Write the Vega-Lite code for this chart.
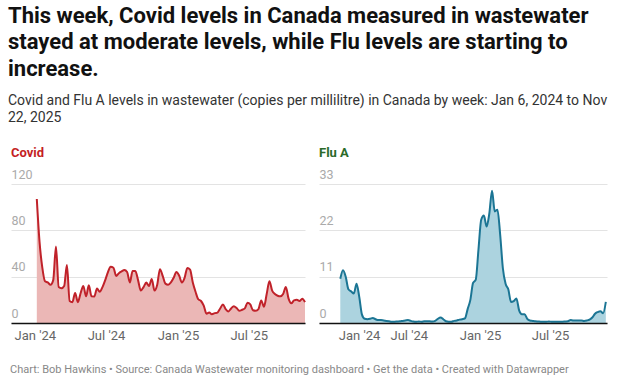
{
  "$schema": "https://vega.github.io/schema/vega-lite/v6.json",
  "background": "white",
  "padding": {"left": 8, "top": 4, "right": 10, "bottom": 4},
  "config": {
    "font": "Roboto",
    "view": {"stroke": null},
    "title": {"font": "Roboto", "subtitleFont": "Roboto"}
  },
  "title": {
    "text": ["This week, Covid levels in Canada measured in wastewater", "stayed at moderate levels, while Flu levels are starting to", "increase."],
    "subtitle": ["Covid and Flu A levels in wastewater (copies per millilitre) in Canada by week: Jan 6, 2024 to Nov", "22, 2025"],
    "anchor": "start",
    "dx": -2,
    "fontSize": 22,
    "fontWeight": "bold",
    "lineHeight": 26.7,
    "color": "#111111",
    "subtitleFontSize": 14,
    "subtitleColor": "#333333",
    "subtitleLineHeight": 16.8,
    "subtitlePadding": 13,
    "offset": 21
  },
  "datasets": {
    "weekly": [
      {"w": "2024-01-06", "covid": 107, "flu": 10.5},
      {"w": "2024-01-13", "covid": 70, "flu": 12.5},
      {"w": "2024-01-20", "covid": 48, "flu": 11},
      {"w": "2024-01-27", "covid": 36, "flu": 8},
      {"w": "2024-02-03", "covid": 35, "flu": 7.5},
      {"w": "2024-02-10", "covid": 33, "flu": 7},
      {"w": "2024-02-17", "covid": 37, "flu": 9.3},
      {"w": "2024-02-24", "covid": 66, "flu": 6.2},
      {"w": "2024-03-02", "covid": 31, "flu": 2},
      {"w": "2024-03-09", "covid": 30, "flu": 1.0},
      {"w": "2024-03-16", "covid": 32, "flu": 0.9},
      {"w": "2024-03-23", "covid": 50, "flu": 1.0},
      {"w": "2024-03-30", "covid": 19, "flu": 1.2},
      {"w": "2024-04-06", "covid": 18, "flu": 0.9},
      {"w": "2024-04-13", "covid": 26, "flu": 0.7},
      {"w": "2024-04-20", "covid": 18, "flu": 0.7},
      {"w": "2024-04-27", "covid": 25.7, "flu": 0.6},
      {"w": "2024-05-04", "covid": 32, "flu": 0.5},
      {"w": "2024-05-11", "covid": 23, "flu": 0.4},
      {"w": "2024-05-18", "covid": 32.6, "flu": 0.3},
      {"w": "2024-05-25", "covid": 23, "flu": 0.3},
      {"w": "2024-06-01", "covid": 22.9, "flu": 0.35},
      {"w": "2024-06-08", "covid": 29.7, "flu": 0.4},
      {"w": "2024-06-15", "covid": 27, "flu": 0.5},
      {"w": "2024-06-22", "covid": 31, "flu": 0.6},
      {"w": "2024-06-29", "covid": 37, "flu": 0.7},
      {"w": "2024-07-06", "covid": 44, "flu": 0.5},
      {"w": "2024-07-13", "covid": 48.5, "flu": 0.35},
      {"w": "2024-07-20", "covid": 47.7, "flu": 0.3},
      {"w": "2024-07-27", "covid": 40.6, "flu": 0.35},
      {"w": "2024-08-03", "covid": 43, "flu": 0.3},
      {"w": "2024-08-10", "covid": 44.5, "flu": 0.4},
      {"w": "2024-08-17", "covid": 45.7, "flu": 0.4},
      {"w": "2024-08-24", "covid": 44, "flu": 0.4},
      {"w": "2024-08-31", "covid": 35, "flu": 0.35},
      {"w": "2024-09-07", "covid": 44.9, "flu": 0.5},
      {"w": "2024-09-14", "covid": 45, "flu": 1.0},
      {"w": "2024-09-21", "covid": 37, "flu": 1.3},
      {"w": "2024-09-28", "covid": 28, "flu": 0.9},
      {"w": "2024-10-05", "covid": 31, "flu": 0.4},
      {"w": "2024-10-12", "covid": 34.9, "flu": 0.3},
      {"w": "2024-10-19", "covid": 32, "flu": 0.3},
      {"w": "2024-10-26", "covid": 38, "flu": 0.5},
      {"w": "2024-11-02", "covid": 28, "flu": 0.6},
      {"w": "2024-11-09", "covid": 33, "flu": 0.8},
      {"w": "2024-11-16", "covid": 46.5, "flu": 0.9},
      {"w": "2024-11-23", "covid": 40.6, "flu": 1.1},
      {"w": "2024-11-30", "covid": 34, "flu": 3.3},
      {"w": "2024-12-07", "covid": 33, "flu": 5.5},
      {"w": "2024-12-14", "covid": 35, "flu": 9.5},
      {"w": "2024-12-21", "covid": 39, "flu": 10.3},
      {"w": "2024-12-28", "covid": 44, "flu": 17.5},
      {"w": "2025-01-04", "covid": 41, "flu": 24.5},
      {"w": "2025-01-11", "covid": 35, "flu": 25.5},
      {"w": "2025-01-18", "covid": 39, "flu": 22.9},
      {"w": "2025-01-25", "covid": 47.5, "flu": 26},
      {"w": "2025-02-01", "covid": 46, "flu": 31.4},
      {"w": "2025-02-08", "covid": 35, "flu": 26.5},
      {"w": "2025-02-15", "covid": 27, "flu": 26.9},
      {"w": "2025-02-22", "covid": 20.5, "flu": 21},
      {"w": "2025-03-01", "covid": 19, "flu": 13},
      {"w": "2025-03-08", "covid": 15, "flu": 9.3},
      {"w": "2025-03-15", "covid": 8, "flu": 8},
      {"w": "2025-03-22", "covid": 9, "flu": 5},
      {"w": "2025-03-29", "covid": 7.5, "flu": 5.2},
      {"w": "2025-04-05", "covid": 8.5, "flu": 5.8},
      {"w": "2025-04-12", "covid": 9, "flu": 3},
      {"w": "2025-04-19", "covid": 12.5, "flu": 2.1},
      {"w": "2025-04-26", "covid": 16, "flu": 2.1},
      {"w": "2025-05-03", "covid": 12, "flu": 1.0},
      {"w": "2025-05-10", "covid": 10, "flu": 0.6},
      {"w": "2025-05-17", "covid": 12.6, "flu": 0.5},
      {"w": "2025-05-24", "covid": 14.5, "flu": 0.4},
      {"w": "2025-05-31", "covid": 12.9, "flu": 0.35},
      {"w": "2025-06-07", "covid": 10.6, "flu": 0.3},
      {"w": "2025-06-14", "covid": 11.4, "flu": 0.3},
      {"w": "2025-06-21", "covid": 12.6, "flu": 0.3},
      {"w": "2025-06-28", "covid": 17.5, "flu": 0.35},
      {"w": "2025-07-05", "covid": 16, "flu": 0.3},
      {"w": "2025-07-12", "covid": 11, "flu": 0.3},
      {"w": "2025-07-19", "covid": 10.6, "flu": 0.3},
      {"w": "2025-07-26", "covid": 12, "flu": 0.3},
      {"w": "2025-08-02", "covid": 19.5, "flu": 0.3},
      {"w": "2025-08-09", "covid": 14, "flu": 0.35},
      {"w": "2025-08-16", "covid": 25, "flu": 0.4},
      {"w": "2025-08-23", "covid": 36, "flu": 0.7},
      {"w": "2025-08-30", "covid": 28, "flu": 0.6},
      {"w": "2025-09-06", "covid": 25, "flu": 0.6},
      {"w": "2025-09-13", "covid": 23.5, "flu": 0.6},
      {"w": "2025-09-20", "covid": 23, "flu": 0.6},
      {"w": "2025-09-27", "covid": 25, "flu": 0.5},
      {"w": "2025-10-04", "covid": 31, "flu": 0.6},
      {"w": "2025-10-11", "covid": 21, "flu": 0.8},
      {"w": "2025-10-18", "covid": 17, "flu": 1.3},
      {"w": "2025-10-25", "covid": 19.5, "flu": 2.2},
      {"w": "2025-11-01", "covid": 20, "flu": 2.6},
      {"w": "2025-11-08", "covid": 19, "flu": 2.8},
      {"w": "2025-11-15", "covid": 21, "flu": 2.3},
      {"w": "2025-11-22", "covid": 18, "flu": 5}
    ]
  },
  "data": {"name": "weekly"},
  "vconcat": [
    {
      "title": {
        "text": "Chart: Bob Hawkins • Source: Canada Wastewater monitoring dashboard • Get the data • Created with Datawrapper",
        "orient": "bottom",
        "anchor": "start",
        "fontSize": 11,
        "fontWeight": "normal",
        "color": "#888888",
        "offset": 22,
        "dx": -1
      },
      "spacing": 14,
      "bounds": "flush",
      "hconcat": [
        {
          "width": 294,
          "height": 139,
          "title": {"text": "Covid", "anchor": "start", "color": "#c41e24", "fontSize": 13, "fontWeight": "bold", "offset": 8},
          "encoding": {
            "x": {
              "field": "w",
              "type": "temporal",
              "scale": {"type": "utc", "domain": [{"year": 2023, "month": 11, "date": 1, "utc": true}, {"year": 2025, "month": 11, "date": 22, "utc": true}]},
              "axis": {
                "title": null,
                "grid": false,
                "ticks": false,
                "tickSize": 0,
                "labelFlush": false,
                "values": [{"year": 2024, "month": 1, "date": 1, "utc": true}, {"year": 2024, "month": 7, "date": 1, "utc": true}, {"year": 2025, "month": 1, "date": 1, "utc": true}, {"year": 2025, "month": 7, "date": 1, "utc": true}],
                "labelExpr": "utcFormat(datum.value, '%b \\'%y')",
                "labelColor": "#666666",
                "labelFontSize": 13,
                "labelPadding": 6,
                "domainColor": "#111111",
                "domainWidth": 1.3,
                "zindex": 1
              }
            },
            "y": {
              "field": "covid",
              "type": "quantitative",
              "scale": {"domain": [0, 120]},
              "axis": {
                "title": null,
                "values": [0, 40, 80, 120],
                "domain": false,
                "ticks": false,
                "tickSize": 0,
                "labelAlign": "left",
                "labelPadding": 0,
                "labelBaseline": "alphabetic",
                "labelOffset": -6,
                "labelColor": "#aaaaaa",
                "labelFontSize": 12.5,
                "gridColor": "#e3e3e3"
              }
            }
          },
          "layer": [
            {"mark": {"type": "area", "color": "#ebb7b6", "interpolate": "monotone"}},
            {"mark": {"type": "line", "color": "#c0222a", "strokeWidth": 2, "interpolate": "monotone"}}
          ]
        },
        {
          "width": 288,
          "height": 139,
          "title": {"text": "Flu A", "anchor": "start", "color": "#2a6a2a", "fontSize": 13, "fontWeight": "bold", "offset": 8},
          "encoding": {
            "x": {
              "field": "w",
              "type": "temporal",
              "scale": {"type": "utc", "domain": [{"year": 2023, "month": 11, "date": 12, "utc": true}, {"year": 2025, "month": 11, "date": 25, "utc": true}]},
              "axis": {
                "title": null,
                "grid": false,
                "ticks": false,
                "tickSize": 0,
                "labelFlush": false,
                "values": [{"year": 2024, "month": 1, "date": 1, "utc": true}, {"year": 2024, "month": 7, "date": 1, "utc": true}, {"year": 2025, "month": 1, "date": 1, "utc": true}, {"year": 2025, "month": 7, "date": 1, "utc": true}],
                "labelExpr": "utcFormat(datum.value, '%b \\'%y')",
                "labelAlign": {"condition": {"test": "datum.value == utc(2024, 0, 1)", "value": "left"}, "value": "center"},
                "labelColor": "#666666",
                "labelFontSize": 13,
                "labelPadding": 6,
                "domainColor": "#111111",
                "domainWidth": 1.3,
                "zindex": 1
              }
            },
            "y": {
              "field": "flu",
              "type": "quantitative",
              "scale": {"domain": [0, 33]},
              "axis": {
                "title": null,
                "values": [0, 11, 22, 33],
                "domain": false,
                "ticks": false,
                "tickSize": 0,
                "labelAlign": "left",
                "labelPadding": 0,
                "labelBaseline": "alphabetic",
                "labelOffset": -6,
                "labelColor": "#aaaaaa",
                "labelFontSize": 12.5,
                "gridColor": "#e3e3e3"
              }
            }
          },
          "layer": [
            {"mark": {"type": "area", "color": "#acd3df", "interpolate": "monotone"}},
            {"mark": {"type": "line", "color": "#1b7594", "strokeWidth": 2, "interpolate": "monotone"}}
          ]
        }
      ]
    }
  ]
}
